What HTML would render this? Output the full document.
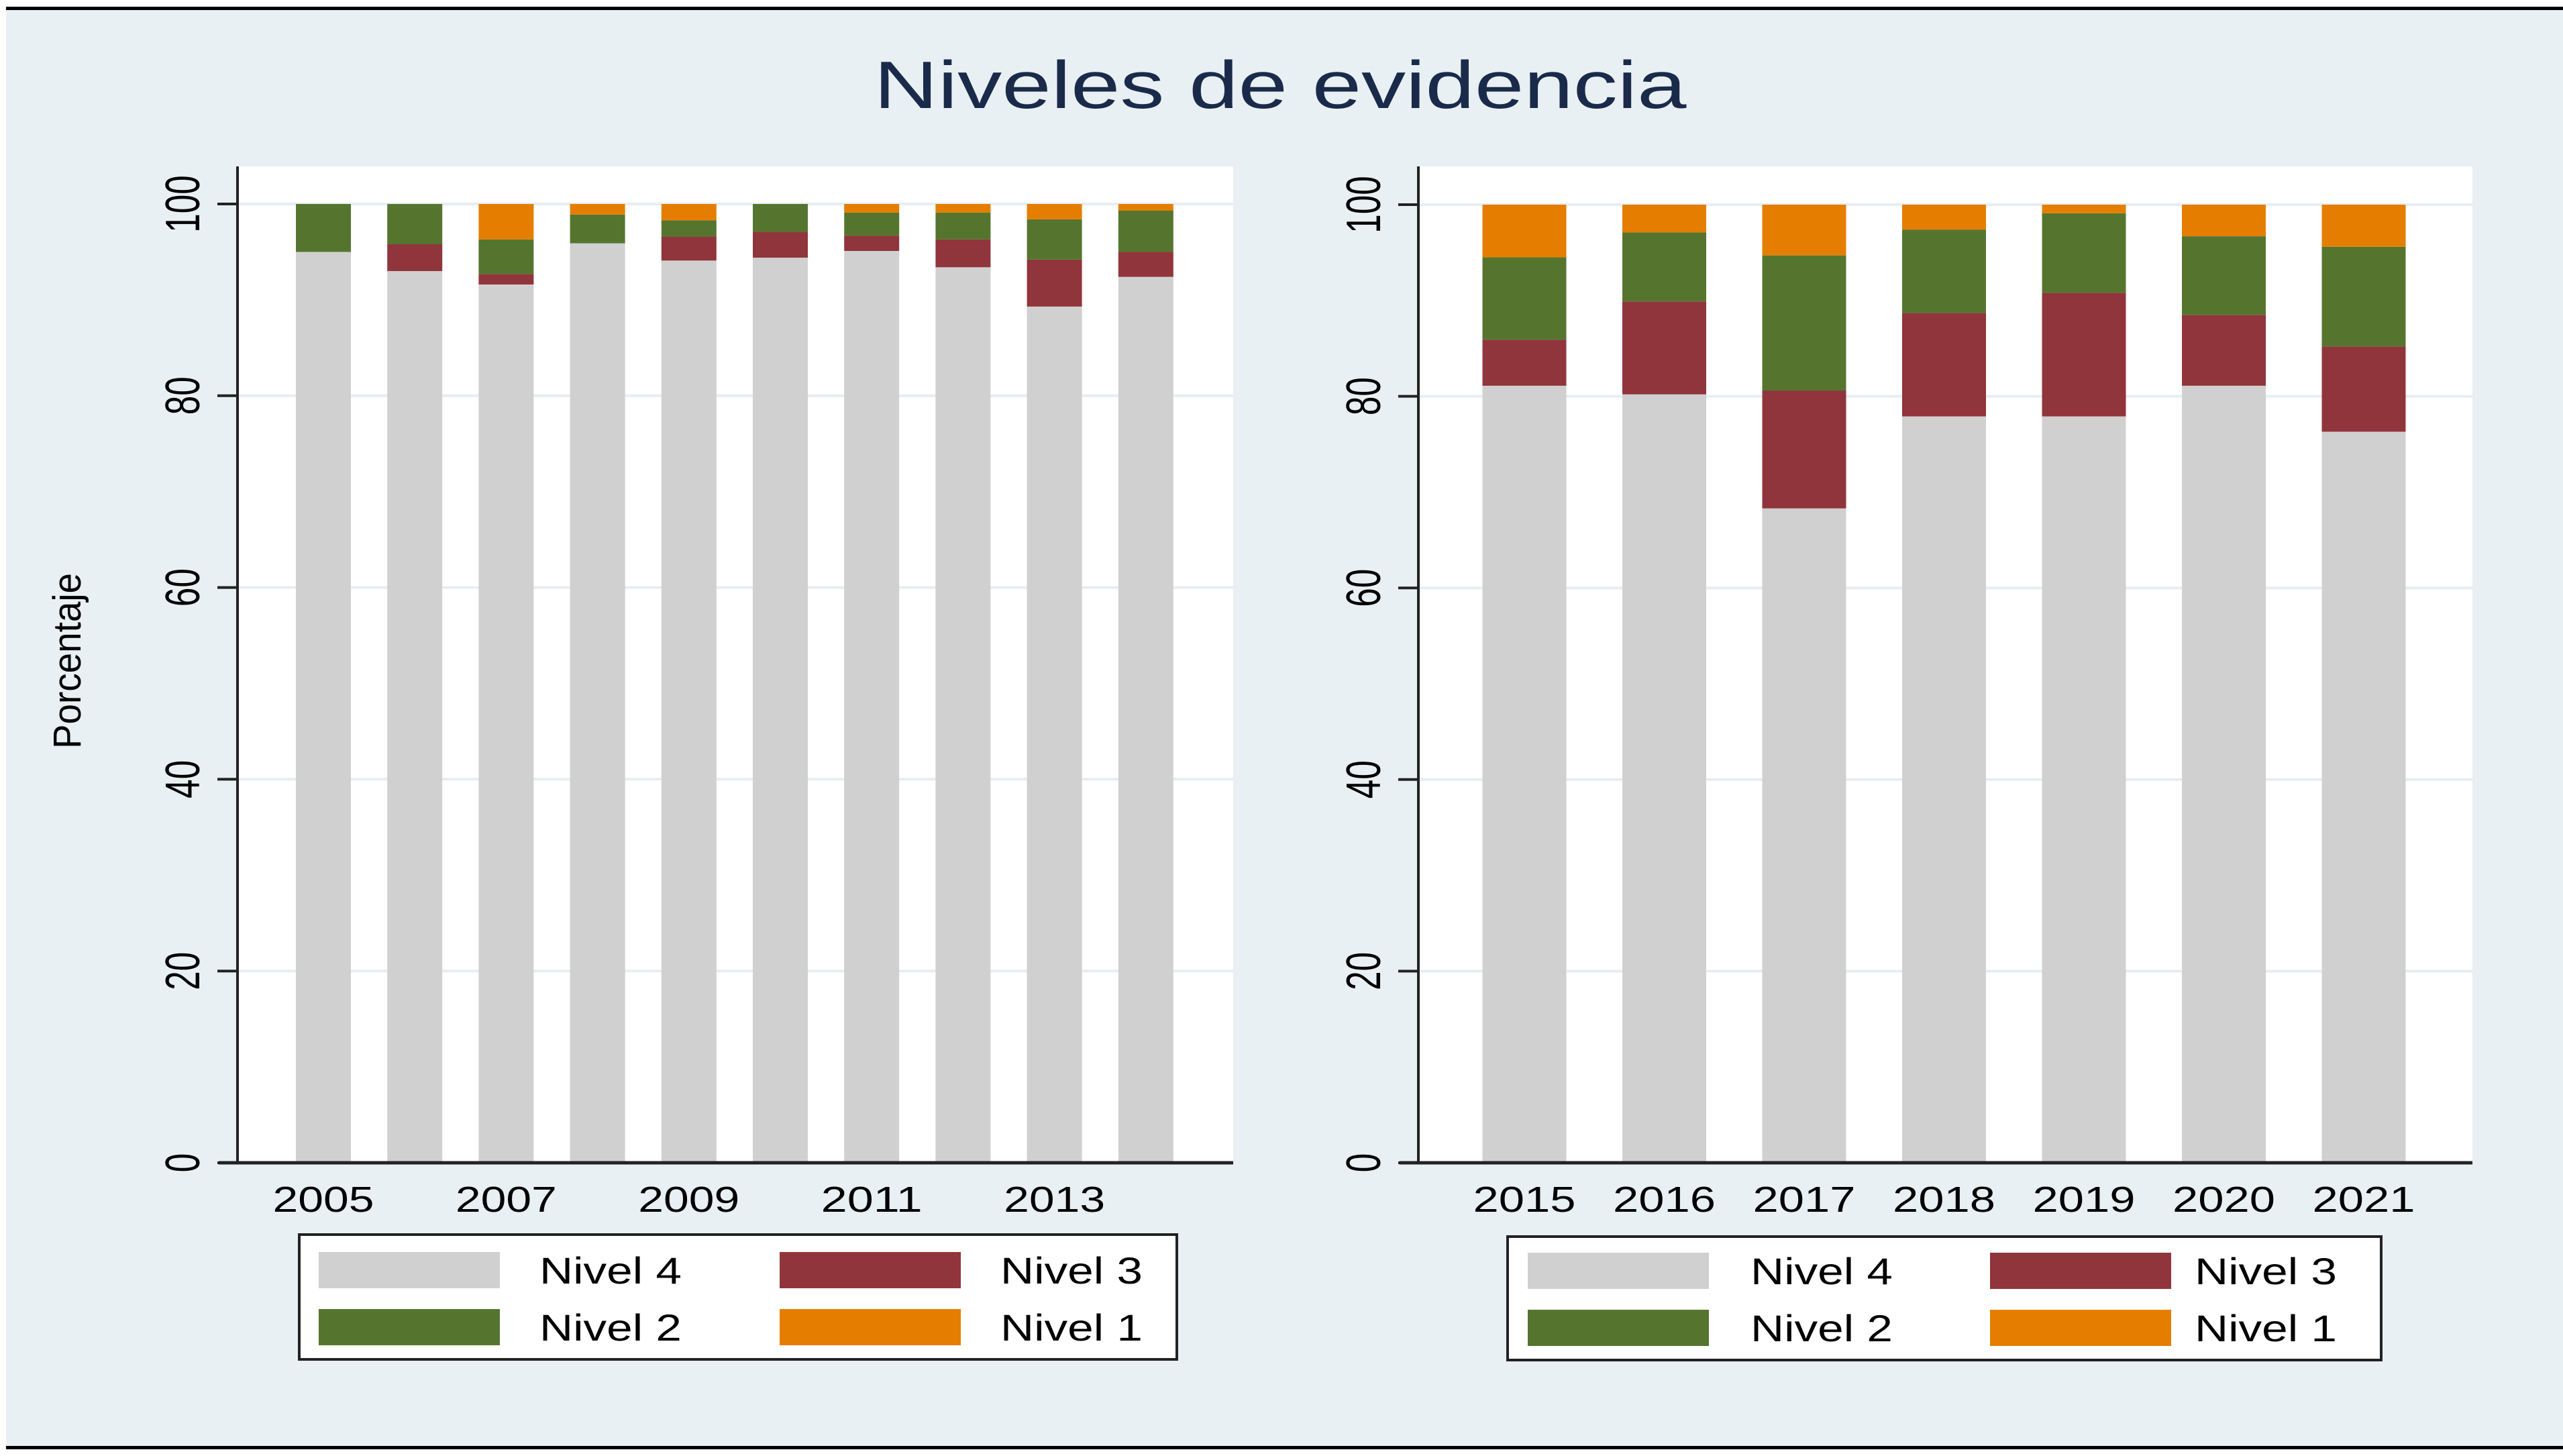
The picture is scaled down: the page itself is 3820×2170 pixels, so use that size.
<!DOCTYPE html>
<html><head><meta charset="utf-8"><style>
html,body{margin:0;padding:0;background:#fff;}
svg{display:block;font-family:"Liberation Sans",Arial,sans-serif;}
</style></head><body>
<svg id="chart" width="3820" height="2170" viewBox="0 0 3820 2170" xmlns="http://www.w3.org/2000/svg">
<rect x="9" y="12" width="3811" height="2146" fill="#e8f0f3"/>
<rect x="9" y="10" width="3811" height="5" fill="#000"/>
<rect x="9" y="2155" width="3811" height="5" fill="#000"/>
<text x="1908" y="161" font-size="100" fill="#1a2a4a" text-anchor="middle" textLength="1211" lengthAdjust="spacingAndGlyphs">Niveles de evidencia</text>
<text transform="translate(120,985) rotate(-90)" font-size="58" text-anchor="middle" textLength="262" lengthAdjust="spacingAndGlyphs">Porcentaje</text>
<g id="g1"></g><g id="g2"></g>
</svg>
<script>
const ticks = [0,20,40,60,80,100];
const levels = ['Nivel 4','Nivel 3','Nivel 2','Nivel 1'];
const colors = ['#d0d0d0','#90353b','#55752f','#e57e00'];
// Panel 1 (2005-2014)
const years1 = ['2005','2006','2007','2008','2009','2010','2011','2012','2013','2014'];
const xlabels1 = ['2005','2007','2009','2011','2013'];
const n4a = [95.0,93.0,91.6,95.9,94.1,94.4,95.1,93.4,89.3,92.4];
const n3a = [0,2.8,1.1,0,2.5,2.7,1.6,2.9,4.9,2.6];
const n2a = [5.0,4.2,3.6,3.0,1.7,2.9,2.4,2.8,4.2,4.3];
const n1a = [0,0,3.7,1.1,1.7,0,0.9,0.9,1.6,0.7];
// Panel 2 (2015-2021)
const years2 = ['2015','2016','2017','2018','2019','2020','2021'];
const n4b = [81.1,80.2,68.3,77.9,77.9,81.1,76.3];
const n3b = [4.8,9.7,12.3,10.8,12.9,7.4,8.9];
const n2b = [8.6,7.2,14.1,8.7,8.3,8.2,10.4];
const n1b = [5.5,2.9,5.3,2.6,0.9,3.3,4.4];

const NS='http://www.w3.org/2000/svg';
function mk(parent,tag,attrs){const e=document.createElementNS(NS,tag);for(const k in attrs)e.setAttribute(k,attrs[k]);parent.appendChild(e);return e;}

function panel(g, cfg){
  const {x0,x1,top,y0,y100,cats,series,labels,firstC,stepC,bw,labelLen,tickLabelX,legend} = cfg;
  const y = v => y0 + (y100-y0)*v/100;
  const xc = i => firstC + stepC*i;
  const bg = mk(g,'rect',{x:x0,y:top,width:x1-x0,height:y0-top,fill:'#fff'});
  
  
  ticks.forEach(t=>{
    if(t>0){const gl=mk(g,'line',{x1:x0,x2:x1,y1:y(t),y2:y(t),stroke:'#e6eef1','stroke-width':4});
      
      }
    const tk=mk(g,'line',{x1:x0-30,x2:x0,y1:y(t),y2:y(t),stroke:'#222','stroke-width':4});
    
    
    const s=String(t);
    const tl=mk(g,'text',{transform:`translate(${tickLabelX},${y(t)}) rotate(-90)`,'font-size':72,'text-anchor':'middle',textLength:s.length*28.5,lengthAdjust:'spacingAndGlyphs'});
    tl.textContent=s;
    
    
  });
  cats.forEach((c,i)=>{
    let cum=0;
    series.forEach((sv,k)=>{
      const v=sv[i]; if(v<=0){return;}
      const r=mk(g,'rect',{x:xc(i)-bw/2,y:y(cum+v),width:bw,height:y(cum)-y(cum+v),fill:colors[k]});
      
      
      cum+=v;
    });
  });
  const ya=mk(g,'line',{x1:x0,x2:x0,y1:top,y2:y0+2,stroke:'#222','stroke-width':4});
  
  
  const xa=mk(g,'line',{x1:x0-28,x2:x1,y1:y0,y2:y0,stroke:'#222','stroke-width':5});
  
  
  labels.forEach(l=>{
    const i=cats.indexOf(l);
    const t=mk(g,'text',{x:xc(i),y:1806,'font-size':54,'text-anchor':'middle',textLength:labelLen,lengthAdjust:'spacingAndGlyphs'});
    t.textContent=l;
    
    
  });
  const L=legend;
  const lb=mk(g,'rect',{x:L.x,y:L.y,width:L.w,height:L.h,fill:'#fff',stroke:'#222','stroke-width':4});
  
  
  [0,1,2,3].forEach(k=>{
    const col=k%2, row=Math.floor(k/2);
    const sx=L.sw[col], sy=L.rowY[row];
    const sw=mk(g,'rect',{x:sx,y:sy,width:270,height:54,fill:colors[k]});
    
    
    const t=mk(g,'text',{x:L.tx[col],y:sy+47,'font-size':56,textLength:212,lengthAdjust:'spacingAndGlyphs'});
    t.textContent=levels[k];
    
    
  });
}
panel(document.getElementById('g1'),{x0:354,x1:1838,top:248,y0:1733,y100:304,cats:years1,
  series:[n4a,n3a,n2a,n1a],labels:xlabels1,firstC:482,stepC:136.2,bw:82,labelLen:151,tickLabelX:297,
  legend:{x:446,y:1840,w:1308,h:186,sw:[475,1162],tx:[804,1491],rowY:[1866,1951]}});
panel(document.getElementById('g2'),{x0:2114,x1:3685,top:248,y0:1733,y100:305,cats:years2,
  series:[n4b,n3b,n2b,n1b],labels:years2,firstC:2272,stepC:208.5,bw:125,labelLen:153,tickLabelX:2057,
  legend:{x:2247,y:1843,w:1302,h:184,sw:[2277,2966],tx:[2609,3271],rowY:[1867,1952]}});
</script>
</body></html>
